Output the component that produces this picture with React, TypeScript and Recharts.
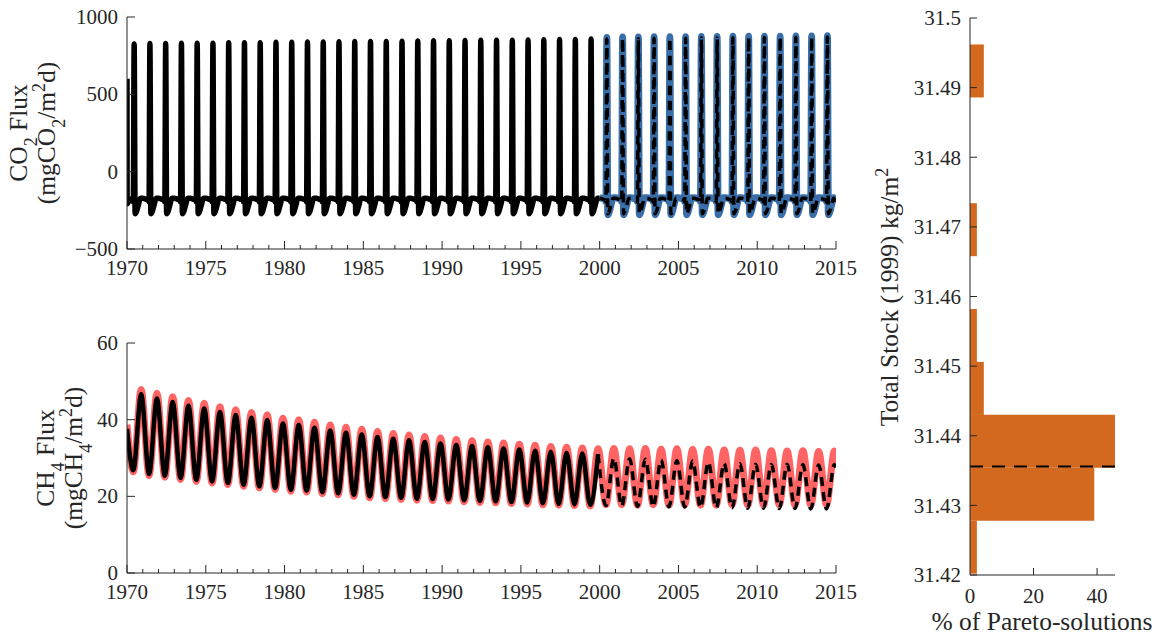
import React from 'react';
import { LineChart, Line, XAxis, YAxis, BarChart, Bar, ReferenceLine } from 'recharts';

// seasonal cycles, one value per year 1970..2014
const cycleStart = 1970;

const co2ModelPeaks = [
  826, 828, 828, 830, 831, 831, 833, 834, 834, 836,
  837, 838, 838, 840, 841, 842, 842, 844, 845, 846,
  846, 848, 849, 850, 850, 852, 853, 854, 855, 857,
  858, 860, 860, 862, 863, 863, 864, 865, 866, 866,
  867, 868, 868, 869, 870,
];
// observed CO2, 2000..2014
const co2ObsStart = 2000;
const co2ObsPeaks = [868, 870, 871, 872, 872, 873, 874, 874, 875, 875, 876, 876, 877, 877, 878];

// one CO2 year: plateau, spike (null = that year's peak), trough, recovery
const co2Phases = [0, 0.2, 0.36, 0.4, 0.455, 0.515, 0.6, 0.72, 0.85];
const co2ModelShape = [-172, -178, -186, -196, null, -272, -258, -215, -172];
const co2ObsShape = [-168, -174, -183, -194, null, -278, -262, -215, -168];
const co2ModelFirst = 600;
const co2ModelEnd = -205;
const co2ObsEnd = -200;

const ch4ModelPeaks = [
  46.6, 45.5, 44.6, 43.6, 42.9, 42.0, 41.2, 40.5, 39.9, 39.0,
  38.6, 37.9, 37.2, 36.6, 36.1, 35.5, 35.0, 34.6, 34.2, 33.8,
  33.4, 33.1, 32.8, 32.5, 32.2, 31.9, 31.6, 31.4, 31.2, 31.0,
  29.9, 29.8, 29.7, 29.5, 29.3, 29.2, 28.9, 28.6, 28.5, 28.4,
  28.3, 28.4, 28.3, 28.2, 28.3,
];
const ch4ModelTroughs = [
  26.8, 25.8, 25.4, 24.8, 24.3, 23.9, 23.5, 23.0, 22.6, 22.2,
  21.7, 21.5, 21.1, 20.8, 20.4, 20.0, 19.8, 19.6, 19.4, 19.3,
  19.2, 19.0, 18.8, 18.7, 18.5, 18.4, 18.2, 18.0, 17.9, 17.8,
  17.6, 17.5, 17.4, 17.3, 17.3, 17.2, 17.1, 17.0, 17.0, 16.9,
  16.9, 16.8, 16.8, 16.7, 16.7,
];
const ch4ObsPeaks = [
  47.9, 46.9, 46.0, 45.0, 44.3, 43.4, 42.6, 41.9, 41.3, 40.4,
  40.0, 39.3, 38.6, 38.0, 37.5, 36.9, 36.4, 36.0, 35.6, 35.2,
  34.8, 34.5, 34.2, 33.9, 33.6, 33.3, 33.0, 32.8, 32.6, 32.4,
  32.5, 32.4, 32.5, 32.3, 32.4, 32.2, 32.3, 32.1, 32.0, 32.1,
  31.9, 31.8, 31.9, 31.7, 31.8,
];
const ch4ObsTroughs = [
  26.4, 25.4, 25.0, 24.4, 23.9, 23.5, 23.1, 22.6, 22.2, 21.8,
  21.3, 21.1, 20.7, 20.4, 20.0, 19.6, 19.4, 19.2, 19.0, 18.9,
  18.8, 18.6, 18.4, 18.3, 18.1, 18.0, 17.8, 17.7, 17.6, 17.5,
  17.8, 17.8, 17.7, 17.8, 17.7, 17.8, 17.7, 17.7, 17.8, 17.7,
  17.7, 17.8, 17.7, 17.7, 17.8,
];
const ch4TroughPhase = 0.4;
const ch4PeakPhase = 0.9;
const ch4ModelFirst = 37.6;
const ch4ModelEnd = 27.5;
const ch4ObsFirst = 38.7;
const ch4ObsEnd = 28.6;

const calibrationEnd = 2000;

// histogram of total stock (1999)
const stockBins = [31.424, 31.4316, 31.4392, 31.4468, 31.4544, 31.462, 31.4696, 31.4772, 31.4848, 31.4924];
const stockShare = [2.17, 39.13, 45.65, 4.35, 2.17, 0, 2.17, 0, 0, 4.35];
const stockMean = 31.4356;

const yearTicks = Array.from({ length: 46 }, (_, i) => 1970 + i);
const co2Ticks = [-500, 0, 500, 1000];
const ch4Ticks = [0, 20, 40, 60];
const stockTicks = [31.42, 31.43, 31.44, 31.45, 31.46, 31.47, 31.48, 31.49, 31.5];
const shareTicks = [0, 20, 40];

type Pt = { t: number; v: number };

function seasonal(first: number, peaks: number[], phases: number[], shape: (number | null)[]): Pt[] {
  const out: Pt[] = [];
  peaks.forEach((pk, i) => {
    phases.forEach((ph, j) => {
      const s = shape[j];
      out.push({ t: first + i + ph, v: s === null ? pk : s });
    });
  });
  return out;
}

function waves(first: number, troughs: number[], peaks: number[]): Pt[] {
  const out: Pt[] = [];
  troughs.forEach((tr, i) => {
    out.push({ t: first + i + ch4TroughPhase, v: tr });
    out.push({ t: first + i + ch4PeakPhase, v: peaks[i] });
  });
  return out;
}

const co2Model: Pt[] = [
  { t: 1970, v: co2ModelFirst },
  { t: 1970.01, v: -208 },
  ...seasonal(cycleStart, co2ModelPeaks, co2Phases, co2ModelShape).filter((p) => p.t > 1970.05),
  { t: 2015, v: co2ModelEnd },
];
const co2ModelSolid = co2Model.filter((p) => p.t <= calibrationEnd);
const co2ModelDashed = co2Model.filter((p) => p.t >= calibrationEnd);
const co2Obs: Pt[] = [
  ...seasonal(co2ObsStart, co2ObsPeaks, co2Phases, co2ObsShape),
  { t: 2015, v: co2ObsEnd },
];

const ch4Model: Pt[] = [
  { t: 1970, v: ch4ModelFirst },
  ...waves(cycleStart, ch4ModelTroughs, ch4ModelPeaks),
  { t: 2015, v: ch4ModelEnd },
];
const ch4ModelSolid = ch4Model.filter((p) => p.t <= calibrationEnd - 0.05);
const ch4ModelDashed = ch4Model.filter((p) => p.t >= calibrationEnd - 0.15);
const ch4Obs: Pt[] = [
  { t: 1970, v: ch4ObsFirst },
  ...waves(cycleStart, ch4ObsTroughs, ch4ObsPeaks),
  { t: 2015, v: ch4ObsEnd },
];

const stockData = stockBins.map((c, i) => ({ center: c, share: stockShare[i] }));

const AX = '#262626';
const SERIF = '"Liberation Serif", "Times New Roman", serif';
const tickText = { fontFamily: SERIF, fontSize: 21, fill: AX };
const BLUE = '#3a6ea8';
const RED = '#ff6464';
const ORANGE = '#d3691f';

const fmt = (v: number) => (v < 0 ? '\u2212' + Math.abs(v) : String(v));

function YearTick(props: any) {
  const { x, y, payload } = props;
  const major = payload.value % 5 === 0;
  return (
    <g>
      <line x1={x} x2={x} y1={y} y2={y - (major ? 8 : 4)} stroke={AX} strokeWidth={1} />
      {major && (
        <text x={x} y={y + 26} textAnchor="middle" style={tickText}>
          {payload.value}
        </text>
      )}
    </g>
  );
}

function LeftTick(props: any) {
  const { x, y, payload } = props;
  return (
    <g>
      <line x1={x} x2={x + 8} y1={y} y2={y} stroke={AX} strokeWidth={1} />
      <text x={x - 9} y={y} dy="0.33em" textAnchor="end" style={tickText}>
        {fmt(payload.value)}
      </text>
    </g>
  );
}

function ShareTick(props: any) {
  const { x, y, payload } = props;
  return (
    <g>
      {payload.value !== 0 && <line x1={x} x2={x} y1={y} y2={y - 7} stroke={AX} strokeWidth={1} />}
      <text x={x} y={y + 28} textAnchor="middle" style={tickText}>
        {payload.value}
      </text>
    </g>
  );
}

function StockTick(props: any) {
  const { x, y, payload } = props;
  return (
    <g>
      <line x1={x} x2={x + 7} y1={y} y2={y} stroke={AX} strokeWidth={1} />
      <text x={x - 9} y={y} dy="0.35em" textAnchor="end" style={tickText}>
        {payload.value}
      </text>
    </g>
  );
}

const lbl = { fontFamily: SERIF, fontSize: 25.5, fill: AX };
const sub = (s: string) => (
  <tspan fontSize={18} baselineShift="sub">
    {s}
  </tspan>
);
const sup = (s: string) => (
  <tspan fontSize={18} baselineShift="super">
    {s}
  </tspan>
);

function Labels() {
  const rot = (x: number, y: number) => `rotate(-90 ${x} ${y})`;
  return (
    <svg width={1157} height={639} style={{ position: 'absolute', left: 0, top: 0, pointerEvents: 'none' }}>
      <text x={27} y={133} transform={rot(27, 133)} textAnchor="middle" style={lbl}>
        CO{sub('2')} Flux
      </text>
      <text x={55} y={133} transform={rot(55, 133)} textAnchor="middle" style={lbl}>
        (mgCO{sub('2')}/m{sup('2')}d)
      </text>
      <text x={54} y={458} transform={rot(54, 458)} textAnchor="middle" style={lbl}>
        CH{sub('4')} Flux
      </text>
      <text x={82} y={458} transform={rot(82, 458)} textAnchor="middle" style={lbl}>
        (mgCH{sub('4')}/m{sup('2')}d)
      </text>
      <text x={898} y={297} transform={rot(898, 297)} textAnchor="middle" style={lbl}>
        Total Stock (1999) kg/m{sup('2')}
      </text>
      <text x={1042} y={630} textAnchor="middle" style={lbl}>
        % of Pareto-solutions
      </text>
    </svg>
  );
}

export default function App() {
  return (
    <div style={{ position: 'absolute', left: 0, top: 0, width: 1157, height: 639, background: '#fff', overflow: 'hidden' }}>
      <div style={{ position: 'absolute', left: 0, top: 0 }}>
        <LineChart width={860} height={290} margin={{ top: 17, right: 24, bottom: 11, left: 0 }}>
          <XAxis
            type="number"
            dataKey="t"
            domain={[1970, 2015]}
            ticks={yearTicks}
            interval={0}
            tickSize={0}
            tickMargin={0}
            tickLine={false}
            tick={<YearTick />}
            height={30}
            stroke={AX}
            allowDataOverflow
          />
          <YAxis
            type="number"
            domain={[-500, 1000]}
            ticks={co2Ticks}
            interval={0}
            tickSize={0}
            tickMargin={0}
            tickLine={false}
            tick={<LeftTick />}
            width={127}
            stroke={AX}
            allowDataOverflow
          />
          <Line data={co2Obs} dataKey="v" type="monotone" stroke={BLUE} strokeWidth={7} dot={false} isAnimationActive={false} strokeLinejoin="round" />
          <Line data={co2ModelSolid} dataKey="v" type="monotone" stroke="#000" strokeWidth={5.5} dot={false} isAnimationActive={false} strokeLinejoin="round" />
          <Line data={co2ModelDashed} dataKey="v" type="monotone" stroke="#000" strokeWidth={3.5} strokeDasharray="9 6" dot={false} isAnimationActive={false} />
        </LineChart>
      </div>
      <div style={{ position: 'absolute', left: 0, top: 326 }}>
        <LineChart width={860} height={290} margin={{ top: 17, right: 24, bottom: 13, left: 0 }}>
          <XAxis
            type="number"
            dataKey="t"
            domain={[1970, 2015]}
            ticks={yearTicks}
            interval={0}
            tickSize={0}
            tickMargin={0}
            tickLine={false}
            tick={<YearTick />}
            height={30}
            stroke={AX}
            allowDataOverflow
          />
          <YAxis
            type="number"
            domain={[0, 60]}
            ticks={ch4Ticks}
            interval={0}
            tickSize={0}
            tickMargin={0}
            tickLine={false}
            tick={<LeftTick />}
            width={127}
            stroke={AX}
            allowDataOverflow
          />
          <Line data={ch4Obs} dataKey="v" type="monotone" stroke={RED} strokeWidth={7} dot={false} isAnimationActive={false} />
          <Line data={ch4ModelSolid} dataKey="v" type="monotone" stroke="#000" strokeWidth={4.5} dot={false} isAnimationActive={false} />
          <Line data={ch4ModelDashed} dataKey="v" type="monotone" stroke="#000" strokeWidth={3.5} strokeDasharray="9 6" dot={false} isAnimationActive={false} />
        </LineChart>
      </div>
      <div style={{ position: 'absolute', left: 840, top: 0 }}>
        <BarChart
          width={317}
          height={639}
          data={stockData}
          layout="vertical"
          barCategoryGap={0}
          barGap={0}
          margin={{ top: 18, right: 42, bottom: 34, left: 0 }}
        >
          <XAxis
            type="number"
            dataKey="share"
            domain={[0, 45.65]}
            ticks={shareTicks}
            interval={0}
            tickSize={0}
            tickMargin={0}
            tickLine={false}
            tick={<ShareTick />}
            height={30}
            stroke={AX}
            allowDataOverflow
          />
          <YAxis
            type="number"
            dataKey="center"
            domain={[31.42, 31.5]}
            ticks={stockTicks}
            interval={0}
            tickSize={0}
            tickMargin={0}
            tickLine={false}
            tick={<StockTick />}
            width={130}
            stroke={AX}
            reversed
            allowDataOverflow
          />
          <Bar dataKey="share" fill={ORANGE} isAnimationActive={false} />
          <ReferenceLine y={stockMean} stroke="#000" strokeWidth={2} strokeDasharray="13 9" />
        </BarChart>
      </div>
      <Labels />
    </div>
  );
}
